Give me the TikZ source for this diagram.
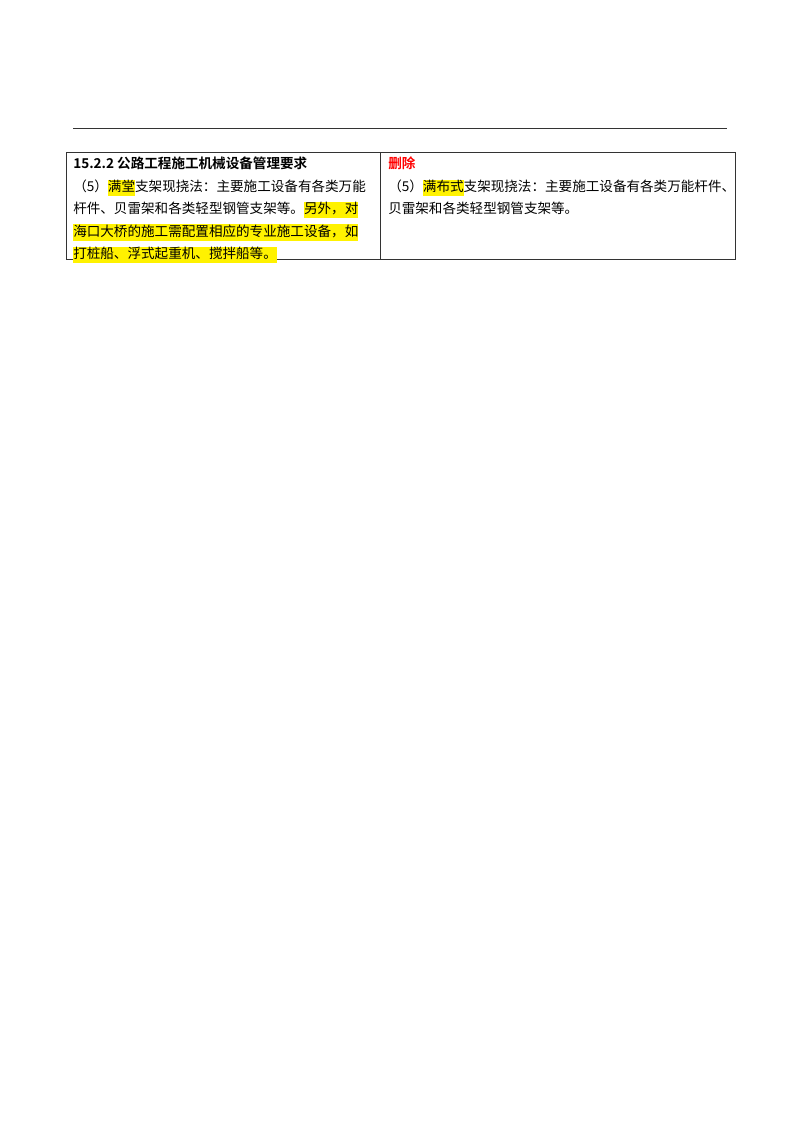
\documentclass[tikz,border=0pt]{standalone}
\usepackage{fontspec}
\setmainfont{Noto Sans CJK SC}
\newfontfamily\cjkb{Noto Sans CJK SC Bold}
\usetikzlibrary{positioning}
\newcommand\hlt[1]{{\setlength{\fboxsep}{0pt}\colorbox{yellow}{\strut #1}}}
\tikzset{
  row/.style={anchor=base west, inner sep=0pt, font=\fontsize{10.1pt}{12pt}\selectfont},
  cell/.style={draw=black!80, line width=0.6pt}
}
\begin{document}
\begin{tikzpicture}[x=0.744pt, y=-0.744pt]
    \useasboundingbox (0,0) rectangle (800,1132);
    % header rule
    \draw [black!80, line width=0.6pt] (73,128) -- (727,128);
    % table
    \draw [cell] (66,152) rectangle (735,259);
    \draw [cell] (380,152) -- (380,259);
    % left column
    \node [row, font=\cjkb\fontsize{10.1pt}{12pt}\selectfont] (t1) at (73,168) {15.2.2 公路工程施工机械设备管理要求};
    \node [row] (l1) at (73,191) {（5）\hlt{满堂}支架现挠法：主要施工设备有各类万能};
    \node [row] (l2) at (73,213) {杆件、贝雷架和各类轻型钢管支架等。\hlt{另外，对}};
    \node [row] (l3) at (73,236) {\hlt{海口大桥的施工需配置相应的专业施工设备，如}};
    \node [row] (l4) at (73,258) {\hlt{打桩船、浮式起重机、搅拌船等。}};
    % right column
    \node [row, text=red, font=\cjkb\fontsize{10.1pt}{12pt}\selectfont] (t2) at (388,168) {删除};
    \node [row] (r1) at (388,191) {（5）\hlt{满布式}支架现挠法：主要施工设备有各类万能杆件、};
    \node [row] (r2) at (388,213) {贝雷架和各类轻型钢管支架等。};
\end{tikzpicture}
\end{document}
